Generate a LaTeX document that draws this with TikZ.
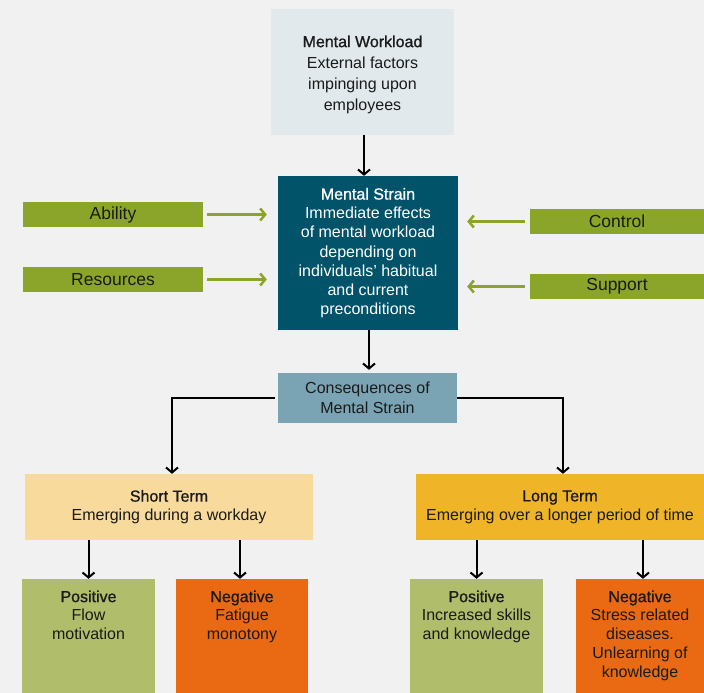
\documentclass[tikz,border=0pt]{standalone}
\usepackage{fontspec}
\setmainfont{Liberation Sans}
\newfontfamily\titlefont{Liberation Sans}[FakeBold=1.0]
\usetikzlibrary{arrows.meta,calc}
\definecolor{bgc}{HTML}{F0F1F0}
\definecolor{wlc}{HTML}{E2E9EC}
\definecolor{msc}{HTML}{005369}
\definecolor{grc}{HTML}{8AA52A}
\definecolor{csc}{HTML}{7AA4B4}
\definecolor{stc}{HTML}{F8DA9C}
\definecolor{ltc}{HTML}{F0B429}
\definecolor{posc}{HTML}{B0BE6B}
\definecolor{negc}{HTML}{E96A12}
\definecolor{txc}{HTML}{1A1A1A}
\begin{document}
\begin{tikzpicture}[x=1pt,y=-1pt,
  box/.style={draw=none,inner sep=0pt,align=center,text=txc,font=\fontsize{16}{20}\selectfont},
  bar/.style={box,fill=grc,minimum height=25pt,font=\fontsize{17.5}{20}\selectfont},
  btext/.style={inner sep=0pt,align=center,text=txc,anchor=north,font=\fontsize{16}{18.8}\selectfont},
  arr/.style={draw=black,line width=2pt,-{Straight Barb[length=5pt,width=12pt,line width=2pt]}},
  garr/.style={draw=grc,line width=2.5pt,-{Straight Barb[length=5pt,width=12pt,line width=2.5pt]}}]
\fill[bgc] (0,0) rectangle (704,693);
\useasboundingbox (0,0) rectangle (704,693);
% boxes
\node[box,fill=wlc,minimum width=183pt,minimum height=126pt] (wl) at (362.5,72) {};
\node[box,font=\fontsize{16}{21}\selectfont] (wlt) at ([yshift=-2.5pt]wl.center)
  {{\titlefont Mental Workload}\\External factors\\impinging upon\\employees};
\node[box,fill=msc,text=white,minimum width=180pt,minimum height=154pt,font=\fontsize{16}{19.2}\selectfont] (ms) at (368,253)
  {{\titlefont Mental Strain}\\Immediate effects\\of mental workload\\depending on\\individuals' habitual\\and current\\preconditions};
\node[bar,minimum width=180pt] (ab) at (113,214.5) {Ability};
\node[bar,minimum width=180pt] (rs) at (113,279.5) {Resources};
\node[bar,minimum width=174pt] (ct) at (617,221.5) {Control};
\node[bar,minimum width=174pt] (sp) at (617,286.5) {Support};
\node[box,fill=csc,minimum width=179pt,minimum height=50pt] (cs) at (367.5,398)
  {Consequences of\\Mental Strain};
\node[box,fill=stc,minimum width=288pt,minimum height=66pt,font=\fontsize{16}{19}\selectfont] (st) at (169,507)
  {{\titlefont Short Term}\\Emerging during a workday};
\node[box,fill=ltc,minimum width=288pt,minimum height=66pt,font=\fontsize{16}{19}\selectfont] (lt) at (560,507)
  {{\titlefont Long Term}\\Emerging over a longer period of time};
\node[box,fill=posc,minimum width=133pt,minimum height=114pt] (p1) at (88.5,636) {};
\node[box,fill=negc,minimum width=132pt,minimum height=114pt] (n1) at (242,636) {};
\node[box,fill=posc,minimum width=133pt,minimum height=114pt] (p2) at (476.5,636) {};
\node[box,fill=negc,minimum width=128pt,minimum height=114pt] (n2) at (640,636) {};
\node[btext] (p1t) at ([yshift=-11.5pt]p1.north) {{\titlefont Positive}\\Flow\\motivation};
\node[btext] (n1t) at ([yshift=-11.5pt]n1.north) {{\titlefont Negative}\\Fatigue\\monotony};
\node[btext] (p2t) at ([yshift=-11.5pt]p2.north) {{\titlefont Positive}\\Increased skills\\and knowledge};
\node[btext] (n2t) at ([yshift=-11.5pt]n2.north) {{\titlefont Negative}\\Stress related\\diseases.\\Unlearning of\\knowledge};
% connectors
\draw[arr] ([xshift=1.5pt]wl.south) -- ([xshift=1.5pt]wl.south |- ms.north);
\draw[arr] ([xshift=1pt]ms.south) -- ([xshift=1pt,yshift=3pt]ms.south |- cs.north);
\draw[arr] ([xshift=-3pt]cs.west) -| ([xshift=3pt]st.north);
\draw[arr] ([xshift=0pt]cs.east) -| ([xshift=3pt]lt.north);
\draw[arr] (p1.north |- st.south) -- (p1.north);
\draw[arr] ([xshift=-2pt]n1.north |- st.south) -- ([xshift=-2pt]n1.north);
\draw[arr] (p2.north |- lt.south) -- (p2.north);
\draw[arr] ([xshift=3pt]n2.north |- lt.south) -- ([xshift=3pt]n2.north);
\draw[garr] ([xshift=4pt]ab.east) -- ([xshift=-11pt]ab.east -| ms.west);
\draw[garr] ([xshift=4pt]rs.east) -- ([xshift=-11pt]rs.east -| ms.west);
\draw[garr] ([xshift=-5pt]ct.west) -- ([xshift=9pt]ct.west -| ms.east);
\draw[garr] ([xshift=-5pt]sp.west) -- ([xshift=9pt]sp.west -| ms.east);
\end{tikzpicture}
\end{document}
